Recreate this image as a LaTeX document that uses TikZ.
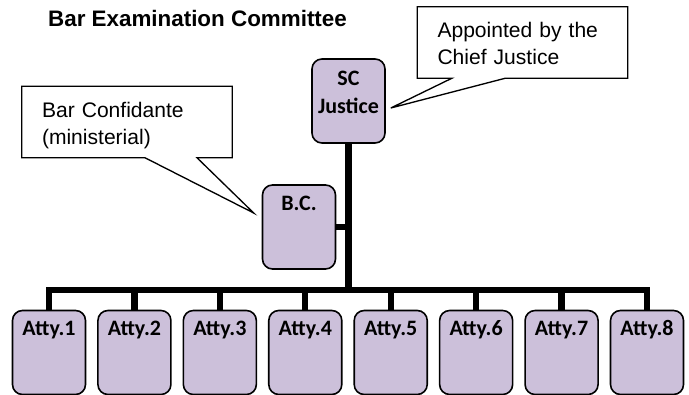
\documentclass[tikz,border=0pt]{standalone}
\usepackage{fontspec}
\setmainfont{Liberation Sans}
\newfontfamily\boxfont{Carlito}
\usepackage{xcolor}
\usetikzlibrary{calc}

\definecolor{boxpurple}{RGB}{204,192,218}

\tikzset{
  orgbox/.style={draw=black, line width=1.2pt, fill=boxpurple, rounded corners=7.5pt,
    minimum width=54.75pt, inner sep=4pt, text height=15pt, text depth=40pt,
    align=center, font=\boxfont\fontsize{16.5}{21}\selectfont\bfseries},
  notetext/.style={inner xsep=15pt, inner ysep=4pt, text width=127.5pt, align=left,
    text height=19.25pt, text depth=26pt, font=\fontsize{15.8}{20.25}\selectfont},
  notebox/.style={line width=1pt},
  link/.style={line width=4.8pt}
}

\begin{document}
\begin{tikzpicture}[x=0.75pt,y=-0.75pt]
	\useasboundingbox (0,0) rectangle (689,395);
	
	% title
	\node[font=\bfseries\fontsize{16.8}{19}\selectfont] (title) at (197.5,18) {Bar Examination Committee};
	
	% SC Justice and B.C.
	\node[orgbox, text height=37.25pt, text depth=17.75pt] (sc) at (348.5,101) {SC\\Justice};
	\node[orgbox] (bc) at (299,227) {B.C.};
	
	% attorneys
	\foreach \i in {1,...,8}
		\node[orgbox] (atty\i) at ({49+85.43*(\i-1)},352.5) {Atty.\i};
	
	% lines
	\coordinate (bus) at (sc.south |- 0,290);
	\draw[link] (sc.south) -- (bus);
	\draw[link] (atty1.north) |- (bus) -| (atty8.north);
	\foreach \i in {2,...,7}
		\draw[link] (atty\i.north) -- (atty\i.north |- bus);
	\draw[link] (bc.east) -- (bc.east -| bus);
	
	% callouts
	\node[notetext] (appt) at (522.5,42.5) {Appointed by the\\Chief Justice};
	\coordinate (scpt) at ($(sc.east)+(5,7)$);
	\draw[notebox] (appt.north west) -- (appt.north east) -- (appt.south east)
		-- ([xshift=-13pt]appt.south) -- (scpt) -- ([xshift=-53pt]appt.south)
		-- (appt.south west) -- cycle;
	
	\node[notetext] (conf) at (127,122) {Bar Confidante\\(ministerial)};
	\coordinate (bcpt) at ($(bc.west)+(-8,-14)$);
	\draw[notebox] (conf.north west) -- (conf.north east) -- (conf.south east)
		-- ([xshift=52.5pt]conf.south) -- (bcpt) -- ([xshift=13.5pt]conf.south)
		-- (conf.south west) -- cycle;
\end{tikzpicture}
\end{document}
